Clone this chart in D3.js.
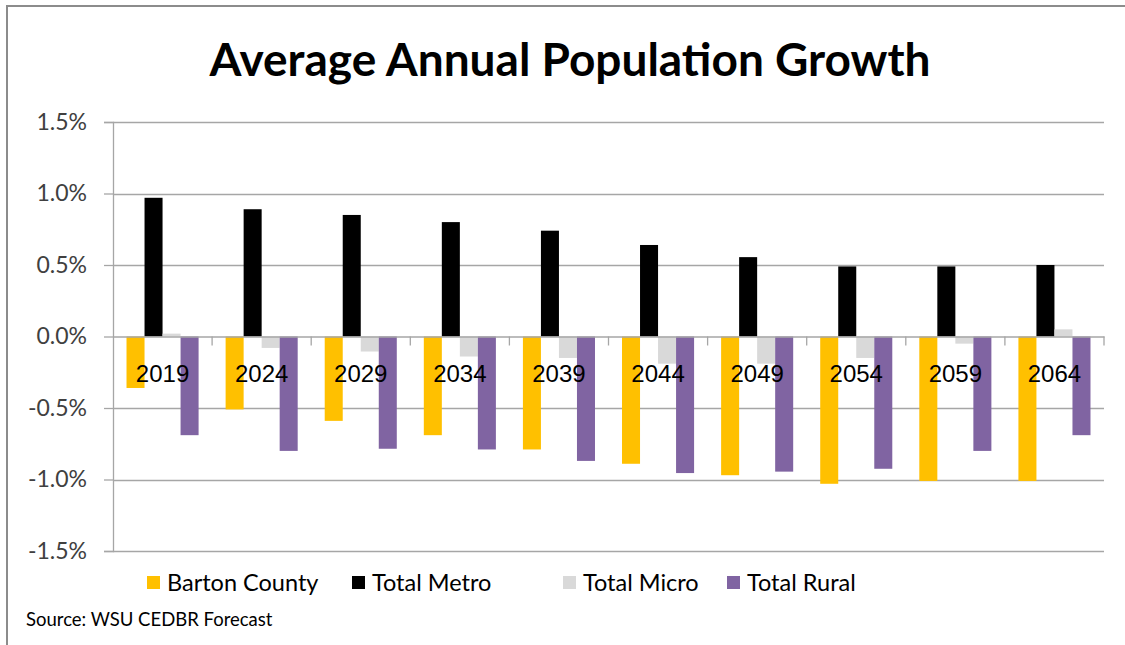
<!DOCTYPE html>
<html>
<head>
<meta charset="utf-8">
<script src="https://cdn.jsdelivr.net/npm/d3@7"></script>
<style>
  body { margin: 0; background: #fff; }
  svg { display: block; font-family: Lato, "Open Sans", sans-serif; }
</style>
</head>
<body>
<div id="chart"></div>
<script>
// data (percent)
const years = ["2019", "2024", "2029", "2034", "2039", "2044", "2049", "2054", "2059", "2064"];
const seriesNames = ["Barton County", "Total Metro", "Total Micro", "Total Rural"];
const bartonCounty = [-0.36, -0.51, -0.59, -0.69, -0.79, -0.89, -0.97, -1.03, -1.01, -1.01];
const totalMetro   = [0.97, 0.89, 0.85, 0.80, 0.74, 0.64, 0.555, 0.49, 0.49, 0.50];
const totalMicro   = [0.02, -0.08, -0.105, -0.14, -0.15, -0.19, -0.19, -0.15, -0.05, 0.05];
const totalRural   = [-0.69, -0.80, -0.785, -0.79, -0.87, -0.955, -0.945, -0.925, -0.80, -0.69];
const yTicks = [1.5, 1.0, 0.5, 0.0, -0.5, -1.0, -1.5];
const colors = ["#FFC000", "#000000", "#D9D9D9", "#8064A2"];

(function(){
  const W = 1125, H = 645;
  const margin = {top: 122, right: 21, bottom: 94, left: 113};
  const seriesValues = [bartonCounty, totalMetro, totalMicro, totalRural];

  const svg = d3.select("#chart").append("svg")
    .attr("width", W).attr("height", H);

  // outer frame (only top/left edges show in the picture)
  svg.append("rect")
    .attr("x", 7).attr("y", 6)
    .attr("width", W + 20).attr("height", H + 20)
    .attr("fill", "none").attr("stroke", "#8c8c8c").attr("stroke-width", 2);

  svg.append("text")
    .attr("x", 570).attr("y", 76)
    .attr("text-anchor", "middle")
    .attr("font-weight", "bold")
    .attr("font-size", 46)
    .attr("fill", "#000")
    .text("Average Annual Population Growth");

  const y = d3.scaleLinear()
    .domain([1.5, -1.5])
    .range([margin.top, H - margin.bottom]);

  const x0 = d3.scaleBand()
    .domain(years)
    .range([margin.left, W - margin.right])
    .padding(0);

  const x1 = d3.scaleBand()
    .domain(seriesNames)
    .range([0, x0.bandwidth()])
    .paddingInner(0)
    .paddingOuter(0.75);

  // gridlines
  svg.append("g").selectAll("line")
    .data(yTicks.filter(d => d !== 0))
    .join("line")
      .attr("x1", margin.left).attr("x2", W - margin.right)
      .attr("y1", d => Math.round(y(d)) + 0.5).attr("y2", d => Math.round(y(d)) + 0.5)
      .attr("stroke", "#a6a6a6").attr("stroke-width", 1.3);

  // y axis, plain hyphen for negatives like the original
  const yAxis = d3.axisLeft(y)
    .tickValues(yTicks)
    .tickSize(9)
    .tickPadding(17)
    .tickFormat(d => d.toFixed(1) + "%");
  const yAxisGroup = svg.append("g")
    .attr("transform", `translate(${margin.left},0)`)
    .call(yAxis);
  yAxisGroup.select(".domain").attr("stroke", "#a6a6a6").attr("stroke-width", 1.3);
  yAxisGroup.selectAll(".tick line").attr("stroke", "#a6a6a6").attr("stroke-width", 1.3);
  yAxisGroup.selectAll(".tick text")
    .attr("font-size", 23).attr("fill", "#404040")
    .attr("font-family", "Lato, sans-serif");

  // bars
  const groups = svg.append("g").selectAll("g")
    .data(years)
    .join("g")
      .attr("transform", d => `translate(${x0(d)},0)`);
  groups.selectAll("rect")
    .data((d, i) => seriesNames.map((s, j) => ({s, v: seriesValues[j][i], c: colors[j]})))
    .join("rect")
      .attr("x", d => x1(d.s))
      .attr("width", x1.bandwidth())
      .attr("y", d => y(Math.max(0, d.v)))
      .attr("height", d => Math.abs(y(d.v) - y(0)))
      .attr("fill", d => d.c);

  // category axis on zero line
  const xAxis = d3.axisBottom(x0).tickSize(0).tickFormat("");
  const xAxisGroup = svg.append("g")
    .attr("transform", `translate(0,${y(0)})`)
    .call(xAxis);
  xAxisGroup.select(".domain").attr("stroke", "#a6a6a6").attr("stroke-width", 1.3);
  // boundary ticks between categories
  xAxisGroup.append("g").selectAll("line")
    .data(years.slice(1).concat(["end"]))
    .join("line")
      .attr("x1", (d, i) => i < years.length - 1 ? x0(d) : x0.range()[1])
      .attr("x2", (d, i) => i < years.length - 1 ? x0(d) : x0.range()[1])
      .attr("y1", 0).attr("y2", 9)
      .attr("stroke", "#a6a6a6").attr("stroke-width", 1.3);
  xAxisGroup.append("g").selectAll("text")
    .data(years)
    .join("text")
      .attr("x", d => x0(d) + x0.bandwidth() / 2)
      .attr("y", 45)
      .attr("text-anchor", "middle")
      .attr("font-size", 24)
      .attr("fill", "#000")
      .text(d => d);

  // legend
  const legendX = [147, 352, 563, 727];
  const legend = svg.append("g").selectAll("g")
    .data(seriesNames)
    .join("g")
      .attr("transform", (d, i) => `translate(${legendX[i]},576)`);
  legend.append("rect")
    .attr("width", 13).attr("height", 13)
    .attr("fill", (d, i) => colors[i]);
  legend.append("text")
    .attr("x", 20).attr("y", 15)
    .attr("font-size", 23.5)
    .attr("fill", "#000")
    .text(d => d);

  svg.append("text")
    .attr("x", 26).attr("y", 626)
    .attr("font-size", 18.5)
    .attr("fill", "#000")
    .text("Source: WSU CEDBR Forecast");
})();
</script>
</body>
</html>
